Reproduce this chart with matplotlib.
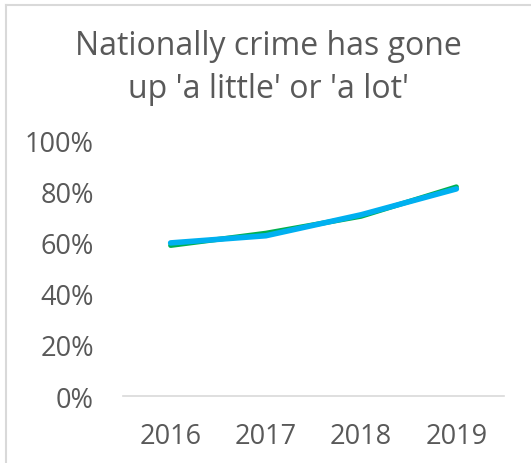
import matplotlib.pyplot as plt
from matplotlib.lines import Line2D

years = ['2016', '2017', '2018', '2019']
serie_zelena = [0.588, 0.636, 0.702, 0.817]
serie_plava = [0.598, 0.626, 0.708, 0.809]
ytick_vals = [0, 0.2, 0.4, 0.6, 0.8, 1.0]
ytick_labels = ['0%', '20%', '40%', '60%', '80%', '100%']

siva = '#595959'
fig = plt.figure(figsize=(5.31, 4.64), dpi=100)
ax = fig.add_axes([123/531, 1 - 397/464, 381/531, 256/464])

x = list(range(len(years)))
ax.plot(x, serie_zelena, color='#00B050', lw=3.6, solid_capstyle='round')
ax.plot(x, serie_plava, color='#00B0F0', lw=4.0, solid_capstyle='round')

ax.set_xlim(-0.5, 3.5)
ax.set_ylim(0, 1.0)
ax.set_xticks(x)
ax.set_xticklabels(years)
ax.set_yticks(ytick_vals)
ax.set_yticklabels(ytick_labels)
for s in ['top', 'right', 'left']:
    ax.spines[s].set_visible(False)
ax.spines['bottom'].set_color('#d9d9d9')
ax.spines['bottom'].set_linewidth(1.2)
ax.tick_params(length=0, labelsize=19.5, colors=siva, labelcolor=siva)
ax.tick_params(axis='x', pad=19)
ax.tick_params(axis='y', pad=21)
for t in ax.get_xticklabels() + ax.get_yticklabels():
    t.set_family('Open Sans')
ax.patch.set_visible(False)

fig.text(268/531, 1 - 47/464, 'Nationally crime has gone', ha='center', va='center',
         fontsize=23, color=siva, family='Open Sans')
fig.text(268/531, 1 - 90/464, "up 'a little' or 'a lot'", ha='center', va='center',
         fontsize=23, color=siva, family='Open Sans')

# okvir
fig.add_artist(Line2D([6/531, 1], [1 - 6/464, 1 - 6/464], color='#d9d9d9', lw=1.5, transform=fig.transFigure))
fig.add_artist(Line2D([6/531, 6/531], [0, 1 - 6/464], color='#d9d9d9', lw=1.5, transform=fig.transFigure))

fig.savefig('out.png', dpi=100)
